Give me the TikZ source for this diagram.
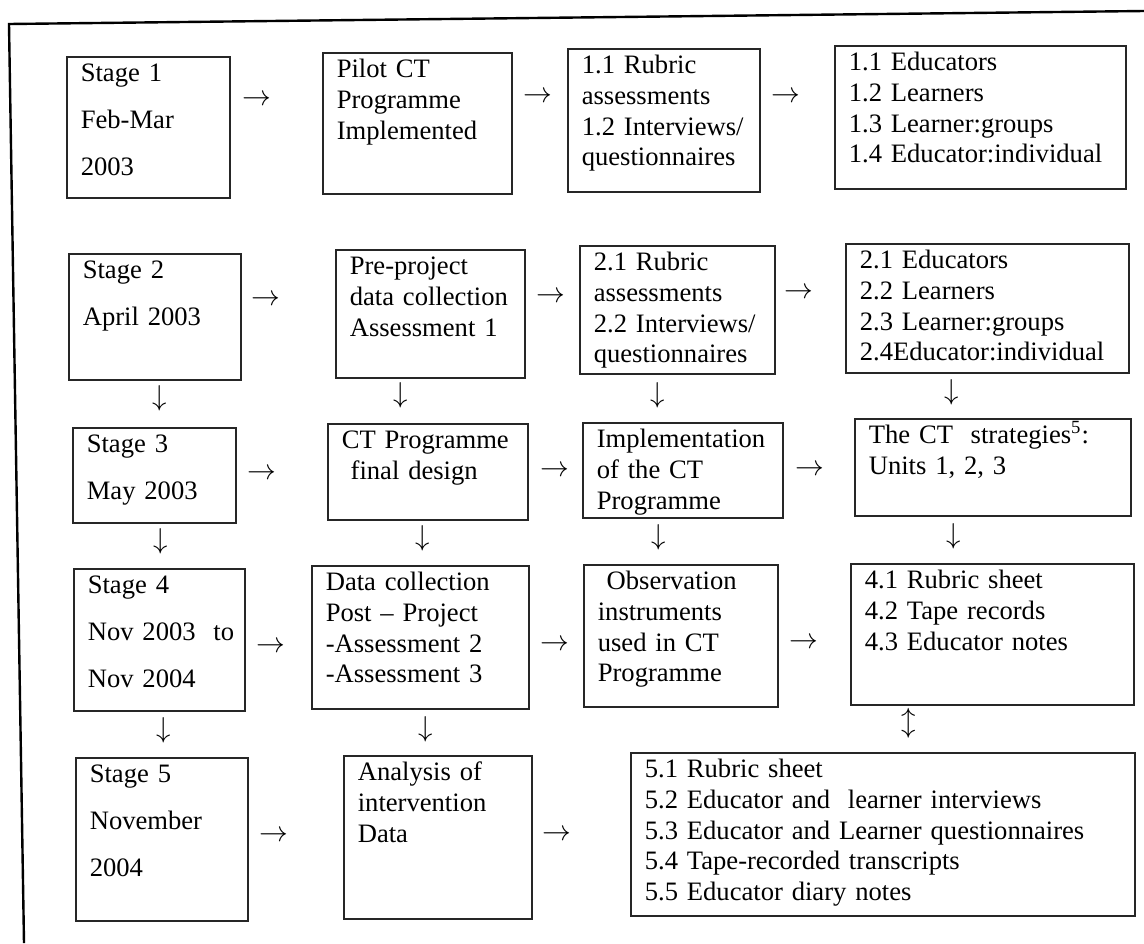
\documentclass[tikz,border=0pt]{standalone}
\usepackage{fontspec}
\setmainfont{Liberation Serif}

\tikzset{
  box/.style 2 args={draw=black!85, line width=0.8pt, anchor=north west, align=left,
    inner xsep=7pt, inner ysep=3.5pt, text width=#1, text height=9pt, text depth=#2,
    font=\fontsize{13.3}{15.3}\selectfont},
  stagebox/.style 2 args={box={#1}{#2}, font=\fontsize{13.3}{23.5}\selectfont},
  arr/.style={inner sep=0pt, font=\fontsize{13.3}{15.3}\selectfont}
}

\begin{document}
\begin{tikzpicture}[x=0.5pt, y=-0.5pt]

\useasboundingbox (0,0) rectangle (1144,943);

% Outer frame (top and left only)
\draw[line width=1.2pt] (24,943) -- (9,24) -- (1144,11);

% Stage 1
\node[stagebox={67.5pt}{54.5pt}] (s1) at (66,56) {Stage 1\\Feb-Mar\\2003};
\node[box={80.5pt}{54.5pt}] (p1) at (322,52) {Pilot CT\\Programme\\Implemented};
\node[box={82pt}{55.5pt}] (r1) at (567,48) {1.1 Rubric\\assessments\\1.2 Interviews/\\questionnaires};
\node[box={131.5pt}{55.5pt}] (e1) at (834,45) {1.1 Educators\\1.2 Learners\\1.3 Learner:groups\\1.4 Educator:individual};

% Stage 2
\node[stagebox={72pt}{47pt}] (s2) at (68,253) {Stage 2\\April 2003};
\node[box={80.5pt}{48pt}] (p2) at (335,249) {Pre-project\\data collection\\Assessment 1};
\node[box={83.5pt}{48pt}] (r2) at (579,245) {2.1 Rubric\\assessments\\2.2 Interviews/\\questionnaires};
\node[box={127.5pt}{48.5pt}] (e2) at (845,243) {2.1 Educators\\2.2 Learners\\2.3 Learner:groups\\2.4Educator:individual};

% Stage 3
\node[stagebox={67.5pt}{31.5pt}] (s3) at (72,427) {Stage 3\\May 2003};
\node[box={86pt}{32pt}] (p3) at (327,423) {CT Programme\\~final design};
\node[box={86pt}{31.5pt}] (r3) at (582,422) {Implementation\\of the CT\\Programme};
\node[box={124pt}{32.5pt}] (e3) at (854,418) {The CT~~strategies\textsuperscript{5}:\\Units 1, 2, 3};

% Stage 4
\node[stagebox={71.5pt}{55pt}] (s4) at (73,568) {Stage 4\\Nov~2003~~to\\Nov 2004};
\node[box={94.5pt}{55.5pt}] (p4) at (311,565) {Data collection\\Post – Project\\-Assessment 2\\-Assessment 3};
\node[box={83pt}{55pt}] (r4) at (583,564) {~Observation\\instruments\\used in CT\\Programme};
\node[box={127.5pt}{54.5pt}] (e4) at (850,563) {4.1 Rubric sheet\\4.2 Tape records\\4.3 Educator notes};

% Stage 5
\node[stagebox={72pt}{65.5pt}] (s5) at (75,757) {Stage 5\\November\\2004};
\node[box={80pt}{65.5pt}] (p5) at (343,755) {Analysis of\\intervention\\Data};
\node[box={238pt}{65.5pt}] (q5) at (630,752) {5.1 Rubric sheet\\5.2 Educator and~~learner interviews\\5.3 Educator and Learner questionnaires\\5.4 Tape-recorded transcripts\\5.5 Educator diary notes};

% Arrows between the boxes
\foreach \x/\y [count=\i] in {257/100, 538/97, 786/97, 266/300, 551/297, 799/293,
    262/474, 555/471, 810/470, 271/647, 555/645, 804/643, 274/836, 557/835}
  \node[arr] (h\i) at (\x,\y) {$\rightarrow$};
\foreach \x/\y [count=\i] in {160/398, 401/395, 658/395, 952/392,
    161/541, 423/538, 659/537, 954/536, 164/730, 426/729}
  \node[arr] (v\i) at (\x,\y) {$\downarrow$};
\node[arr] (d1) at (909,723) {$\updownarrow$};

\end{tikzpicture}
\end{document}
